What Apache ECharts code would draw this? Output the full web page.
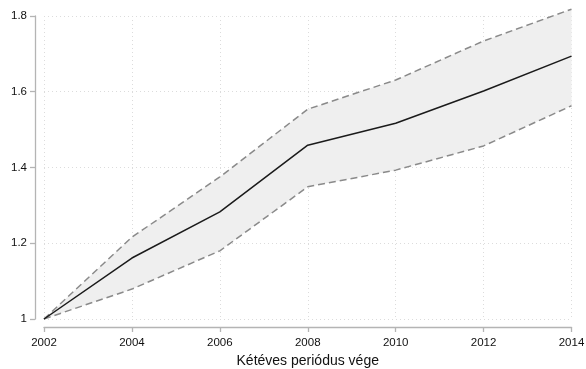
<!DOCTYPE html>
<html>
<head>
<meta charset="utf-8">
<script src="https://cdn.jsdelivr.net/npm/echarts@6/dist/echarts.min.js"></script>
<style>
  html, body { margin: 0; padding: 0; background: #fff; }
  #chart { width: 586px; height: 369px; }
</style>
</head>
<body>
<div id="chart"></div>
<script>
// Period end years and the estimated index with its confidence band
const years = ['2002', '2004', '2006', '2008', '2010', '2012', '2014'];
const estimate = [1.0, 1.161, 1.283, 1.459, 1.517, 1.602, 1.694];
const upperBound = [1.0, 1.216, 1.375, 1.554, 1.631, 1.734, 1.818];
const lowerBound = [1.0, 1.079, 1.180, 1.349, 1.393, 1.457, 1.563];
const yTicks = [1, 1.2, 1.4, 1.6, 1.8];
const xTitle = 'Kétéves periódus vége';

// band thickness stacked on top of the lower bound
const bandWidth = upperBound.map((u, i) => +(u - lowerBound[i]).toFixed(4));

const font = 'Liberation Sans, Arial, sans-serif';
const chart = echarts.init(document.getElementById('chart'), null, { renderer: 'canvas' });

chart.setOption({
  animation: false,
  backgroundColor: '#ffffff',
  grid: { left: 44, right: 14.5, top: 16, bottom: 50, containLabel: false, outerBoundsMode: 'none' },
  xAxis: {
    type: 'category',
    data: years,
    boundaryGap: false,
    offset: 8,
    name: xTitle,
    nameLocation: 'middle',
    nameGap: 25,
    nameTextStyle: { fontFamily: font, fontSize: 14, color: '#111' },
    axisLine: { show: true, lineStyle: { color: '#b4b4b4', width: 1.3 } },
    axisTick: { show: true, length: 5, alignWithLabel: true, lineStyle: { color: '#b4b4b4', width: 1.3 } },
    axisLabel: { fontFamily: font, fontSize: 11.5, color: '#111', margin: 10, interval: 0 },
    splitLine: { show: true, interval: 0, lineStyle: { color: '#dcdcdc', type: [1, 3], width: 1 } }
  },
  yAxis: {
    type: 'value',
    min: 1, max: 1.8, interval: 0.2,
    offset: 9,
    axisLine: { show: true, lineStyle: { color: '#b4b4b4', width: 1.3 } },
    axisTick: { show: true, length: 5, lineStyle: { color: '#b4b4b4', width: 1.3 } },
    axisLabel: { fontFamily: font, fontSize: 11.5, color: '#111', margin: 8,
                 formatter: v => {
                   const t = yTicks.find(k => Math.abs(k - v) < 1e-6);
                   return t === undefined ? '' : String(t);
                 } },
    splitLine: { show: true, lineStyle: { color: '#dcdcdc', type: [1, 3], width: 1 } }
  },
  series: [
    {
      name: 'lower-base', type: 'line', data: lowerBound, stack: 'band', symbol: 'none',
      lineStyle: { width: 0, opacity: 0 }, clip: false, silent: true, z: 1
    },
    {
      name: 'band', type: 'line', data: bandWidth, stack: 'band', symbol: 'none',
      lineStyle: { width: 0, opacity: 0 }, areaStyle: { color: '#efefef', opacity: 1 },
      clip: false, silent: true, z: 1
    },
    {
      type: 'line', data: upperBound, symbol: 'none', clip: false, z: 3,
      lineStyle: { color: '#8a8a8a', width: 1.5, type: [7, 4] }
    },
    {
      type: 'line', data: lowerBound, symbol: 'none', clip: false, z: 3,
      lineStyle: { color: '#8a8a8a', width: 1.5, type: [7, 4] }
    },
    {
      type: 'line', data: estimate, symbol: 'none', clip: false, z: 4,
      lineStyle: { color: '#1a1a1a', width: 1.5 }
    }
  ]
});
</script>
</body>
</html>
